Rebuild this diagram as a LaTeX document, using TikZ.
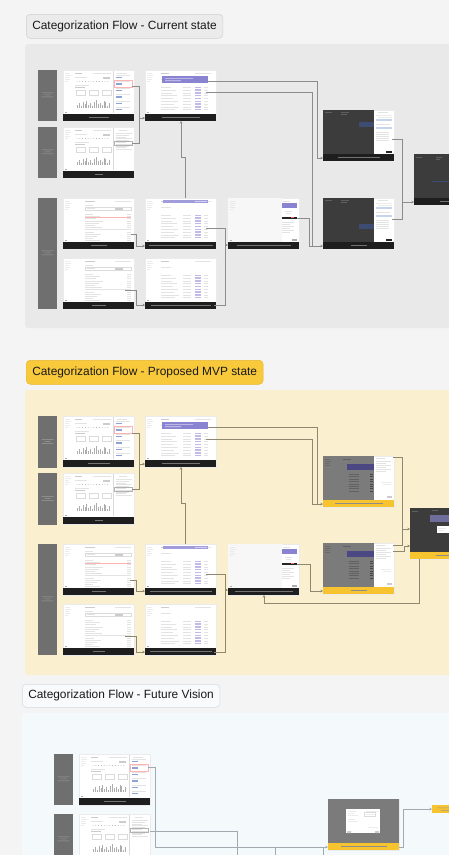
\documentclass[tikz,border=0pt]{standalone}
\usepackage{fontspec}
\setmainfont{Liberation Sans}
\usetikzlibrary{arrows.meta,calc}
\definecolor{bgc}{HTML}{F4F4F4}
\definecolor{pa}{HTML}{E9E9E9}
\definecolor{tafill}{HTML}{EBEBEB}
\definecolor{tadraw}{HTML}{CFCFCF}
\definecolor{pb}{HTML}{FAEFCF}
\definecolor{tbfill}{HTML}{F9C93C}
\definecolor{tbdraw}{HTML}{E8B52A}
\definecolor{pc}{HTML}{F4F9FC}
\definecolor{tcfill}{HTML}{F8FAFB}
\definecolor{tcdraw}{HTML}{D3DADF}
\definecolor{barc}{HTML}{6F6F6F}
\definecolor{capdark}{HTML}{1E1E1E}
\definecolor{capyel}{HTML}{F7C430}
\definecolor{pur}{HTML}{8A83D1}
\definecolor{dk}{HTML}{3C3C3C}
\definecolor{dblue}{HTML}{3E4B72}
\definecolor{lblue}{HTML}{C8D4EE}
\definecolor{ov}{HTML}{7B7B7B}
\definecolor{opur}{HTML}{4B4883}
\definecolor{blu}{HTML}{8FA2D6}
\definecolor{ca}{HTML}{8C8C8C}
\definecolor{cb}{HTML}{8F8770}
\definecolor{cc}{HTML}{A2AAB1}
\tikzset{
 gL/.style={fill=black!11},
 gM/.style={fill=black!20},
 gD/.style={fill=black!32},
 gB/.style={draw=black!14, line width=0.3pt},
 scr/.style={draw=black!8, line width=0.3pt, fill=white, anchor=north west,
   minimum width=71pt, minimum height=51pt, inner sep=0pt, outer sep=0pt},
 lbarst/.style={fill=barc, anchor=north west, minimum width=19pt, inner sep=0pt, outer sep=0pt},
 ttl/.style={anchor=north west, rounded corners=4pt, inner xsep=6pt, inner ysep=0pt,
   minimum height=24pt, line width=0.5pt, text=black!90, font=\fontsize{11.9}{14}\selectfont},
 cn/.style={draw=#1, line width=0.6pt},
 ar/.style={draw=#1, line width=0.6pt, -{Stealth[length=2.6pt,width=2.6pt]}},
}
% ---- screen contents (local coordinates, y downwards) ----
\newcommand\cSide{\fill[gL] (2,3) rectangle (7,3.6) (2,5) rectangle (8,5.6) (2,7) rectangle (6,7.6) (2,9) rectangle (7,9.6) (2,11) rectangle (5,11.6); \fill[gD] (1.5,42) rectangle (3.5,43);}
\newcommand\cDashL{\cSide
 \fill[gM] (12,3) rectangle (19,4.2);
 \fill[gL] (30,3) rectangle (48,3.6);
 \fill[gL] (12,7) rectangle (24,7.7);
 \fill[gM] (40,6.5) rectangle (47,8.5);
 \foreach \i in {0,...,11} \fill[gD] (14+\i*2.8,11.5) circle (0.45pt);
 \fill[gL] (12,14.5) rectangle (26,15.2);
 \fill[gM] (12,17) rectangle (22,17.7);
 \draw[gB] (13,20.5) rectangle (22,25) (26,20.5) rectangle (35,25) (39,20.5) rectangle (48,25);
 \foreach \h [count=\i] in {3,5,2,6,4,7,3,5,2,6,8,4,5,3,7,6,2,5} \fill[gD] (12+\i*1.9,38) rectangle ++(0.8,-\h);
 \draw[gB] (50.5,1) -- (50.5,43);}
\newcommand\cDash{\cDashL
 \fill[gL] (54,2.5) rectangle (64,3.1);
 \foreach \j in {0,...,5} {\fill[gL] (53,5+\j*6.4) rectangle (67,5.8+\j*6.4); \fill[blu] (53,7+\j*6.4) rectangle (59,8.4+\j*6.4);}
 \draw[red!30, line width=0.3pt] (51.5,10.5) rectangle (69.5,17);}
\newcommand\cDashB{\cDashL
 \fill[gL] (56,2.5) rectangle (64,3.1);
 \foreach \j in {0,...,9} \fill[gL] (52.5,6+\j*1.8) rectangle ({69-mod(\j,3)*3},6.6+\j*1.8);
 \draw[black!30, line width=0.3pt] (51.5,14.5) rectangle (69.5,18.5);}
\newcommand\cTableBase{\cSide
 \fill[gM] (22,3) rectangle (32,4.2);
 \fill[gL] (52,3) rectangle (68,3.6);
 \fill[gL] (22,7) rectangle (30,7.6);
 \draw[gB] (22,9) rectangle (68,12.5);
 \fill[gL] (24,10.4) rectangle (32,11.1);
 \fill[gM] (52,10) rectangle (60,11.5);
 \foreach \j in {0,...,12} {\fill[gL] (22,16+\j*2.2) rectangle ({30+mod(\j*7,11)},16.6+\j*2.2); \fill[gL] (64,16+\j*2.2) rectangle (68,16.6+\j*2.2);}
 \fill[gL] (22,31) rectangle (68,31.4);}
\newcommand\cTableR{\cTableBase \fill[red!30] (22,18.9) rectangle (68,19.3);}
\newcommand\cRows{\cSide
 \fill[gM] (16,3) rectangle (24,3.8); \fill[gL] (50,3) rectangle (66,3.6);
 \fill[gL] (16,9) rectangle (26,9.6);
 \foreach \j in {0,...,8} {\fill[gL] (16,17+\j*2.8) rectangle ({26+mod(\j*5,9)},17.6+\j*2.8); \fill[gL] (38,17+\j*2.8) rectangle (46,17.6+\j*2.8); \fill[pur!55] (50,16.6+\j*2.8) rectangle (56,18+\j*2.8); \fill[gL] (59,17+\j*2.8) rectangle (63,17.6+\j*2.8);}}
\newcommand\cPurple{\cRows \fill[pur] (17,6) rectangle (63,13); \fill[white!65!pur] (20,8) rectangle (48,8.7) (20,10.3) rectangle (36,11);}
\newcommand\cPurpleB{\cRows \fill[pur!80] (18,2) rectangle (63,5.2); \fill[white!60!pur] (50,2.8) rectangle (62,4.4);}
\newcommand\cPanel{\fill[black!3] (0,0) rectangle (54,44); \cSide
 \fill[gL] (55,2.5) rectangle (62,3.1);
 \fill[pur] (54,5) rectangle (69,10);
 \fill[gL] (57,13) rectangle (64,13.6);
 \fill[gL] (58,15) rectangle (63,15.6);
 \fill[black!85] (54,18.5) rectangle (69,20.5);
 \fill[red!60] (63,19) rectangle (66,20);
 \foreach \j in {0,...,5} \fill[gL] (54,24+\j*2) rectangle ({66-mod(\j,2)*4},24.6+\j*2);
 \fill[gD] (64,41) rectangle (69,42.5);}
\newcommand\cDark[1]{\fill[dk] (0,0) rectangle (51,44);
 \fill[black!55] (2,2) rectangle (9,2.6) (18,2) rectangle (26,2.6) (18,4) rectangle (24,4.6);
 \fill[dblue] (36,#1) rectangle (51,#1+5);
 \fill[gL] (55,2) rectangle (65,2.6);
 \fill[gL] (53,5) rectangle (69,5.6) (55,7) rectangle (69,7.6);
 \fill[lblue] (53,9) rectangle (69,10.5);
 \fill[gL] (53,14) rectangle (67,14.6);
 \fill[lblue] (53,17) rectangle (69,19);
 \foreach \j in {0,...,4} \fill[gL] (53,22+\j*2) rectangle (66,22.6+\j*2);
 \fill[black!85] (63,41) rectangle (69,42.5);}
\newcommand\cGray{\fill[ov] (0,0) rectangle (51,44);
 \fill[black!62] (2,3) rectangle (7,3.6) (2,5) rectangle (8,5.6) (2,7) rectangle (6,7.6) (2,9) rectangle (7,9.6);
 \fill[black!62] (20,3) rectangle (28,3.8);
 \fill[opur] (24,8) rectangle (51,14);
 \foreach \j in {0,...,7} {\fill[black!62] (26,18+\j*2.4) rectangle (36,18.6+\j*2.4); \fill[black!72] (47,18+\j*2.4) rectangle (50,18.8+\j*2.4);}
 \fill[gL] (53,2) rectangle (62,2.6);
 \foreach \j in {0,...,5} \fill[gL] (53,5+\j*2) rectangle ({68-mod(\j,2)*5},5.6+\j*2);
 \fill[gL] (58,26) rectangle (68,26.6) (60,28) rectangle (68,28.6);
 \fill[gM] (64,40) rectangle (69,41.5);}
\newcommand\cDarkC{\fill[dk] (0,0) rectangle (71,44);
 \fill[black!55] (2,3) rectangle (8,3.6) (22,3) rectangle (28,3.6) (22,5) rectangle (26,5.6);
 \fill[dblue] (18,26.5) rectangle (45,28);}
\newcommand\cDarkM{\fill[dk] (0,0) rectangle (71,44);
 \fill[black!55] (2,3) rectangle (8,3.6) (22,2) rectangle (28,2.6);
 \fill[opur!80!white] (20,7) rectangle (60,14);
 \fill[white] (27,18) rectangle (50,25);
 \fill[gL] (28,20) rectangle (36,20.6) (28,22) rectangle (34,22.6);}
\newcommand\cFut{\fill[ov] (0,0) rectangle (71,44);
 \fill[white] (18,10) rectangle (52,34);
 \fill[gL] (20,12) rectangle (28,12.6) (38,12) rectangle (50,12.6) (20,14) rectangle (26,14.6) (20,16) rectangle (30,16.6) (38,15) rectangle (46,15.6) (20,20) rectangle (27,20.6) (20,22) rectangle (30,22.6) (40,28) rectangle (50,28.6);
 \draw[gB] (36,13.5) rectangle (47,17);
 \fill[gM] (19,32) rectangle (23,34) (47,32) rectangle (51,34);}
% ---- screen with caption ----
% #1 name, #2 x, #3 y, #4 content, #5 caption fill, #6 caption text colour, #7 half width of caption text
\newcommand\shot[7]{%
 \node[scr] (#1) at (#2,#3) {};
 \begin{scope}[shift={(#2,#3)}]
  #4
  \fill[#5] (0,44) rectangle (71,51);
  \fill[#6] ({35.5-#7},47.2) rectangle ({35.5+#7},47.9);
 \end{scope}}
\newcommand\lbar[4]{%
 \node[lbarst, minimum height=#4 pt] (#1) at (#2,#3) {};
 \begin{scope}[shift={(#2+9.5,#3+#4/2)}]
  \fill[black!38] (-6,-3) rectangle (6,-2.4) (-3,-1) rectangle (3,-0.4) (-6,1) rectangle (6,1.6);
 \end{scope}}
\begin{document}
\begin{tikzpicture}[x=1pt,y=-1pt]
\useasboundingbox (0,0) rectangle (449,855);
\clip (0,0) rectangle (449,855);
\fill[bgc] (0,0) rectangle (449,855);
% ================= Section 1 =================
\fill[pa, rounded corners=3pt] (25,44) rectangle (470,328);
\node[ttl, fill=tafill, draw=tadraw] (T1) at (26,14) {Categorization Flow - Current state};
\lbar{A1}{38}{70}{51}
\lbar{A2}{38}{127}{51}
\lbar{A3}{38}{198}{111}
\shot{a1}{63}{70}{\cDash}{capdark}{black!55}{10}
\shot{a2}{63}{127}{\cDashB}{capdark}{black!55}{4}
\shot{a3}{63}{198}{\cTableR}{capdark}{black!55}{8}
\shot{a4}{63}{258}{\cTableBase}{capdark}{black!55}{7}
\shot{a5}{145}{70}{\cPurple}{capdark}{black!55}{19}
\shot{a6}{145}{198}{\cPurpleB}{capdark}{black!55}{32}
\shot{a7}{145}{258}{\cRows}{capdark}{black!55}{30}
\shot{a8}{228}{198}{\cPanel}{capdark}{black!55}{27}
\shot{a9}{323}{110}{\cDark{12}}{capdark}{black!55}{21}
\shot{a10}{323}{198}{\cDark{26}}{capdark}{black!55}{8}
\shot{a11}{414}{154}{\cDarkC}{capdark}{black!55}{10}
% connectors
\coordinate (pa1) at (132,86); \coordinate (pa2) at (132,143); \coordinate (ja1) at (139,118);
\draw[cn=ca] (pa1) -| (ja1); \draw[cn=ca] (pa2) -| (ja1); \draw[ar=ca] (ja1) -- (ja1 -| a5.west);
\coordinate (pa3) at (208,81); \coordinate (ja2) at (317,158);
\draw[ar=ca] (pa3) -| (ja2) -- (ja2 -| a9.west);
\coordinate (pa4) at (206,92); \coordinate (ja3) at (312,246);
\draw[ar=ca] (pa4) -| (ja3) -- (ja3 -| a10.west);
\coordinate (pa5) at (297,218); \coordinate (ja4) at (309,246);
\draw[cn=ca] (pa5) -| (ja4) -- (ja3);
\coordinate (ka1) at (185,157); \coordinate (ka2) at (181,157);
\draw[ar=ca] (ka1 |- a6.north) -- (ka1) -- (ka2) -- (ka2 |- a5.south);
\coordinate (pa7) at (131,234); \coordinate (ja5) at (136,246);
\draw[ar=ca] (pa7) -| (ja5) -- (ja5 -| a6.west);
\coordinate (pa8) at (125,290); \coordinate (ja6) at (136,305);
\draw[ar=ca] (pa8) -| (ja6) -- (ja6 -| a7.west);
\coordinate (pa9) at (206,228); \coordinate (ja7) at (225,245);
\draw[ar=ca] (pa9) -| (ja7) -- (ja7 -| a8.west);
\coordinate (pa10) at (214,305);
\draw[cn=ca] (pa10) -| (ja7);
\coordinate (pa11) at (392,139); \coordinate (pa12) at (392,219); \coordinate (ja8) at (402,202);
\draw[cn=ca] (pa11) -| (ja8); \draw[cn=ca] (pa12) -| (ja8); \draw[ar=ca] (ja8) -- (ja8 -| a11.west);
% ================= Section 2 =================
\fill[pb, rounded corners=3pt] (25,390) rectangle (470,675);
\node[ttl, fill=tbfill, draw=tbdraw] (T2) at (26,360) {Categorization Flow - Proposed MVP state};
\lbar{B1}{38}{416}{52}
\lbar{B2}{38}{473}{52}
\lbar{B3}{38}{544}{111}
\shot{b1}{63}{416}{\cDash}{capdark}{black!55}{11}
\shot{b2}{63}{473}{\cDashB}{capdark}{black!55}{4}
\shot{b3}{63}{544}{\cTableR}{capdark}{black!55}{7}
\shot{b4}{63}{604}{\cTableBase}{capdark}{black!55}{6}
\shot{b5}{145}{416}{\cPurple}{capdark}{black!55}{19}
\shot{b6}{145}{544}{\cPurpleB}{capdark}{black!55}{31}
\shot{b7}{145}{604}{\cRows}{capdark}{black!55}{31}
\shot{b8}{228}{544}{\cPanel}{capdark}{black!55}{29}
\shot{b9}{323}{456}{\cGray}{capyel}{black!45}{24}
\shot{b10}{323}{543}{\cGray}{capyel}{black!45}{8}
\shot{b11}{410}{508}{\cDarkM}{capyel}{black!45}{10}
% connectors
\coordinate (pb1) at (132,433); \coordinate (pb2) at (132,489); \coordinate (jb1) at (139,464);
\draw[cn=cb] (pb1) -| (jb1); \draw[cn=cb] (pb2) -| (jb1); \draw[ar=cb] (jb1) -- (jb1 -| b5.west);
\coordinate (pb3) at (208,427); \coordinate (jb2) at (317,504);
\draw[ar=cb] (pb3) -| (jb2) -- (jb2 -| b9.west);
\coordinate (pb4) at (206,439); \coordinate (jb3) at (312,504);
\draw[cn=cb] (pb4) -| (jb3) -- (jb2);
\coordinate (kb1) at (185,503); \coordinate (kb2) at (181,503);
\draw[ar=cb] (kb1 |- b6.north) -- (kb1) -- (kb2) -- (kb2 |- b5.south);
\coordinate (pb5) at (130,580); \coordinate (jb5) at (136,591);
\draw[ar=cb] (pb5) -| (jb5) -- (jb5 -| b6.west);
\coordinate (pb6) at (125,636); \coordinate (jb6) at (136,652);
\draw[ar=cb] (pb6) -| (jb6) -- (jb6 -| b7.west);
\coordinate (pb7) at (206,574); \coordinate (jb7) at (225,590);
\draw[ar=cb] (pb7) -| (jb7) -- (jb7 -| b8.west);
\coordinate (pb8) at (214,652);
\draw[cn=cb] (pb8) -| (jb7);
\coordinate (pb9) at (297,564); \coordinate (jb8) at (310,591);
\draw[ar=cb] (pb9) -| (jb8) -- (jb8 -| b10.west);
\coordinate (pb10) at (393,457); \coordinate (pb11) at (393,545); \coordinate (jb9) at (402,529);
\draw[cn=cb] (pb10) -| (jb9); \draw[cn=cb] (pb11) -| (jb9); \draw[ar=cb] (jb9) -- (jb9 -| b11.west);
\coordinate (pb12) at (393,551); \coordinate (jb10) at (404,546);
\draw[ar=cb] (pb12) -| (jb10) -- (jb10 -| b11.west);
\coordinate (kb3) at (419,603); \coordinate (kb4) at (264,603);
\draw[ar=cb] (kb3 |- b11.south) -- (kb3) -- (kb4) -- (kb4 |- b8.south);
% ================= Section 3 =================
\fill[pc, rounded corners=3pt] (22,713) rectangle (470,880);
\node[ttl, fill=tcfill, draw=tcdraw, minimum height=23pt] (T3) at (22,684) {Categorization Flow - Future Vision};
\lbar{C1}{54}{754}{51}
\lbar{C2}{54}{814}{51}
\shot{c1}{79}{754}{\cDash}{capdark}{black!55}{11}
\shot{c2}{79}{814}{\cDashB}{capdark}{black!55}{6}
\shot{c3}{328}{799}{\cFut}{capyel}{black!45}{23}
\node[fill=capyel, anchor=north west, minimum width=30pt, minimum height=8pt, inner sep=0pt] (c4) at (432,805) {};
\fill[black!40] (437,807.5) rectangle (449,808.1) (441,810) rectangle (449,810.6);
% connectors
\coordinate (pc1) at (148,767); \coordinate (jc1) at (155,847);
\draw[ar=cc] (pc1) -| (jc1) -- (jc1 -| c3.west);
\coordinate (pc2) at (150,831); \coordinate (ec1) at (237,860);
\draw[cn=cc] (pc2) -| (ec1);
\coordinate (ec2) at (275,860); \coordinate (ec3) at (323,860);
\draw[cn=cc] (ec2) -- (ec2 |- jc1); \draw[cn=cc] (ec3) -- (ec3 |- jc1);
\coordinate (jc2) at (403,809);
\draw[ar=cc] (c3.east |- jc1) -| (jc2) -- (jc2 -| c4.west);
\end{tikzpicture}
\end{document}
